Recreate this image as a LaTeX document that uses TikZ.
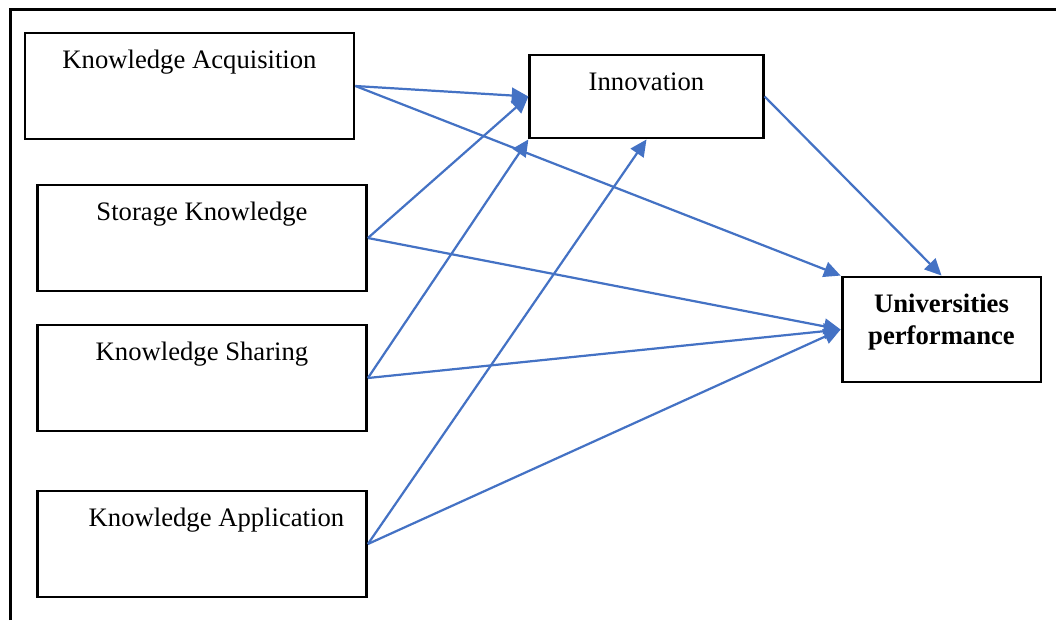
\documentclass[tikz,border=0pt]{standalone}
\usepackage{fontspec}
\setmainfont{Liberation Serif}
\usepackage{tikz}
\usetikzlibrary{arrows.meta}
\definecolor{linkblue}{HTML}{4472C4}

\begin{document}
\begin{tikzpicture}[x=0.45pt,y=-0.45pt]
\tikzset{concept/.style = {draw,line width=1.3pt,inner sep=0pt,text height=16pt,text depth=31.7pt,minimum width=148pt,font=\fontsize{12}{14}\selectfont}}
\tikzset{link/.style = {-{Triangle[length=7.5pt,width=7pt]},draw=linkblue,fill=linkblue,line width=1pt}}
\useasboundingbox (0,0) rectangle (1056,620);
% frame
\draw[line width=1.35pt] (10,620) -- (10,9) -- (1056,9);
% vertices
\node[concept] (ka) at (189.5,86) {Knowledge Acquisition};
\node[concept] (sk) at (202,238) {Storage Knowledge};
\node[concept] (ks) at (202,378) {Knowledge Sharing};
\node[concept] (kap) at (202,544) {\hspace*{13pt}Knowledge Application};
\node[concept,minimum width=105pt,text height=15.75pt,text depth=21.6pt] (inn) at (646.5,96.5) {Innovation};
\node[concept,minimum width=89.5pt,text height=30.15pt,text depth=17.1pt,align=center,font=\fontsize{12}{14}\selectfont\bfseries] (up) at (941.5,329.5) {Universities\\performance};
%edges
\draw[link] (ka.east) -- (inn.west);
\draw[link] (ka.east) -- (up.north west);
\draw[link] (inn.east) -- (up.north);
\draw[link] (sk.east) -- (inn.west);
\draw[link] (sk.east) -- (up.west);
\draw[link] (ks.east) -- (inn.south west);
\draw[link] (ks.east) -- (up.west);
\draw[link] (kap.east) -- (inn.south);
\draw[link] (kap.east) -- (up.west);
\end{tikzpicture}
\end{document}
